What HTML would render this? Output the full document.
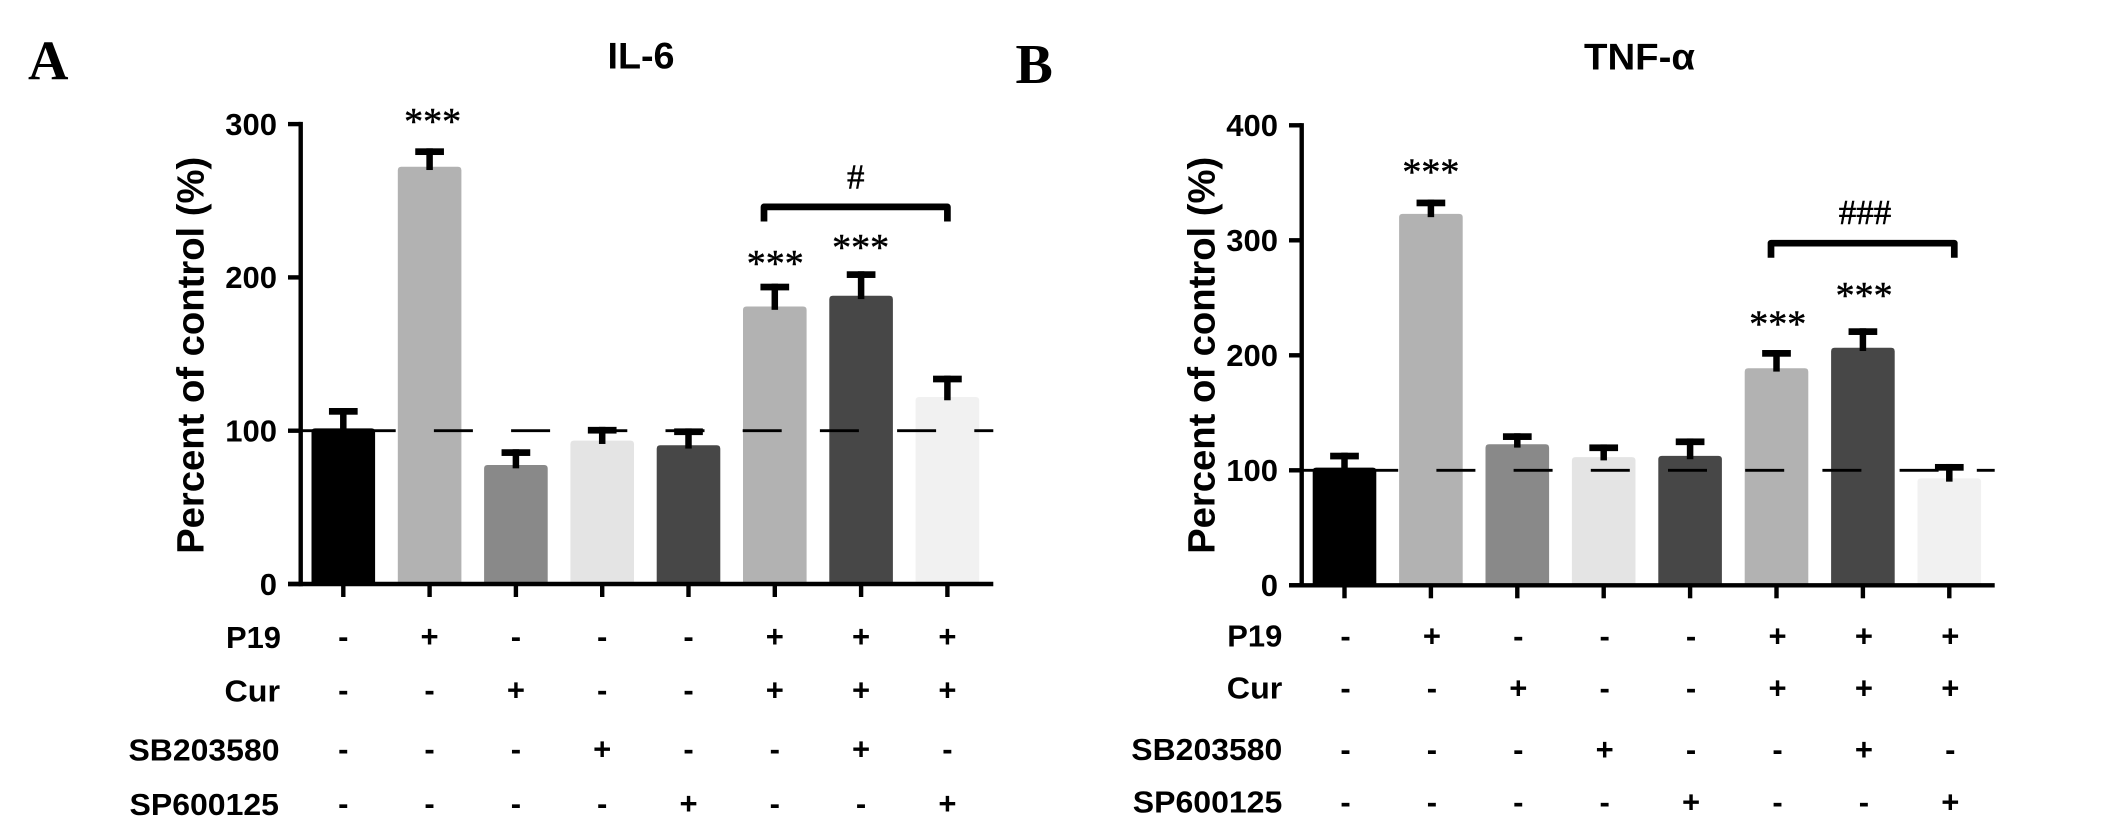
<!DOCTYPE html>
<html lang="en">
<head>
<meta charset="utf-8">
<title>IL-6 and TNF-α percent of control</title>
<style>
  html, body { margin: 0; padding: 0; background: #fff; }
  body { width: 2126px; height: 826px; overflow: hidden; }
  svg { display: block; }
  text { font-family: "Liberation Sans", sans-serif; fill: #000; }
  .bold { font-weight: 700; }
  .serif { font-family: "Liberation Serif", serif; }
  .thick { stroke: #000; stroke-width: 0.5; }
</style>
</head>
<body>
<svg id="figure" xmlns="http://www.w3.org/2000/svg" width="2126" height="826" viewBox="0 0 2126 826">
  <rect x="0" y="0" width="2126" height="826" fill="#fff"/>
  <text class="serif bold" x="28" y="79.5" font-size="56">A</text>
  <text class="serif bold" x="1015.5" y="83" font-size="56">B</text>
  <text class="bold" x="607.5" y="68.5" font-size="37" textLength="67" lengthAdjust="spacingAndGlyphs">IL-6</text>
  <text class="bold" x="1584" y="69.5" font-size="37" textLength="111" lengthAdjust="spacingAndGlyphs">TNF-α</text>
</svg>
<script>
// ---- shared categories ----
const treatmentNames = ["P19", "Cur", "SB203580", "SP600125"];
const p19Signs      = ["-", "+", "-", "-", "-", "+", "+", "+"];
const curSigns      = ["-", "-", "+", "-", "-", "+", "+", "+"];
const sb203580Signs = ["-", "-", "-", "+", "-", "-", "+", "-"];
const sp600125Signs = ["-", "-", "-", "-", "+", "-", "-", "+"];
const barColors = ["#000000", "#b2b2b2", "#898989", "#e4e4e4", "#474747", "#b2b2b2", "#474747", "#f1f1f1"];
const referenceValue = 100;

// ---- IL-6 data ----
const il6Ticks = [0, 100, 200, 300];
const il6Values = [101.5, 272.2, 77.6, 93.5, 90.5, 181, 188, 122];
const il6ErrorTops = [114.8, 284.2, 87.9, 102.5, 101.5, 195.9, 204, 135.9];
const il6StarBars = [1, 5, 6];
const il6StarLevels = [293.5, 201, 211.5];
const il6BracketLevel = 246;
const il6HashLevel = 258;
const il6HashText = "#";

// ---- TNF-alpha data ----
const tnfTicks = [0, 100, 200, 300, 400];
const tnfValues = [102.3, 323, 122.6, 111.5, 112.5, 188.7, 206.6, 93];
const tnfErrorTops = [115.3, 335.4, 132.2, 122.5, 127.7, 204.6, 223.5, 105.5];
const tnfStarBars = [1, 5, 6];
const tnfStarLevels = [348.6, 216.4, 241];
const tnfBracketLevel = 297.5;
const tnfHashLevel = 314;
const tnfHashText = "###";

const SVG_NS = "http://www.w3.org/2000/svg";
const figure = document.getElementById("figure");

function make(tag, attrs, parent) {
  const node = document.createElementNS(SVG_NS, tag);
  for (const key in attrs) node.setAttribute(key, attrs[key]);
  parent.appendChild(node);
  return node;
}

function drawPanel(cfg) {
  const xBand = i => cfg.firstX + i * cfg.step;
  const yScale = v => cfg.y0 - v * cfg.pxPerUnit;
  const barW = 63.6, capW = 28.7, capH = 6.7, stemW = 6.5, axisW = 4.4;

  const group = make("g", {}, figure);
  
  

  // bars
  cfg.values.forEach((v, i) => {
    const top = yScale(v), l = xBand(i) - barW / 2, r = xBand(i) + barW / 2, rad = 3.5;
    const bar = make("path", {
      d: `M${l},${cfg.y0} V${top + rad} Q${l},${top} ${l + rad},${top} H${r - rad} Q${r},${top} ${r},${top + rad} V${cfg.y0} Z`,
      fill: barColors[i]
    }, group);
    
    
  });

  // error bars
  cfg.errors.forEach((e, i) => {
    const top = yScale(e), bottom = yScale(cfg.values[i]) + 3.3;
    const stem = make("rect", { x: xBand(i) - stemW / 2, y: top, width: stemW, height: bottom - top, fill: "#000" }, group);
    
    
    const cap = make("rect", { x: xBand(i) - capW / 2, y: top, width: capW, height: capH, fill: "#000" }, group);
    
    
  });

  // dashed reference line
  const refLine = make("line", {
    x1: cfg.axisLeft, x2: cfg.axisRight, y1: yScale(referenceValue), y2: yScale(referenceValue),
    stroke: "#000", "stroke-width": 2.8, "stroke-dasharray": "39 38.2", "stroke-dashoffset": cfg.dashPhase
  }, group);
  
  

  // y axis
  const yAxis = make("line", {
    x1: cfg.axisX, x2: cfg.axisX, y1: yScale(cfg.ticks[cfg.ticks.length - 1]) - axisW / 2, y2: cfg.y0 + axisW / 2,
    stroke: "#000", "stroke-width": axisW
  }, group);
  
  

  cfg.ticks.forEach(t => {
    const tick = make("line", {
      x1: cfg.axisLeft, x2: cfg.axisX, y1: yScale(t), y2: yScale(t), stroke: "#000", "stroke-width": axisW
    }, group);
    
    
    const label = make("text", {
      x: cfg.tickLabelX, y: yScale(t) + 10.8, "font-size": 31, "text-anchor": "end", class: "bold"
    }, group);
    label.textContent = String(t);
    
    
  });

  // x axis
  const xAxis = make("line", {
    x1: cfg.axisLeft, x2: cfg.axisRight, y1: cfg.y0, y2: cfg.y0, stroke: "#000", "stroke-width": axisW
  }, group);
  
  

  cfg.values.forEach((v, i) => {
    const tick = make("line", {
      x1: xBand(i), x2: xBand(i), y1: cfg.y0, y2: cfg.y0 + 13, stroke: "#000", "stroke-width": axisW
    }, group);
    
    
  });

  // y axis title
  const yTitle = make("text", {
    transform: `translate(${cfg.yTitleX},355.3) rotate(-90)`, "font-size": 38, "text-anchor": "middle",
    class: "bold", textLength: 397, lengthAdjust: "spacingAndGlyphs"
  }, group);
  yTitle.textContent = "Percent of control (%)";
  
  

  // significance stars
  cfg.starBars.forEach((b, k) => {
    const star = make("text", {
      x: xBand(b) + cfg.starDx[k], y: yScale(cfg.starLevels[k]), "font-size": 38, "text-anchor": "middle", class: "serif thick"
    }, group);
    star.textContent = "***";
    
    
  });

  // bracket + hash label
  const bl = xBand(5) + cfg.bracketDx[0], br = xBand(7) + cfg.bracketDx[1];
  const by = yScale(cfg.bracketLevel);
  const bracket = make("path", {
    d: `M${bl},${by + 14.6} V${by} H${br} V${by + 14.6}`, fill: "none", stroke: "#000",
    "stroke-width": 6.7, "stroke-linejoin": "round"
  }, group);
  
  

  const hash = make("text", {
    x: (bl + br) / 2 + cfg.hashDx, y: yScale(cfg.hashLevel), "font-size": 35, "text-anchor": "middle", class: "serif thick"
  }, group);
  hash.textContent = cfg.hashText;
  
  

  // treatment table
  [p19Signs, curSigns, sb203580Signs, sp600125Signs].forEach((signs, r) => {
    const name = make("text", {
      x: cfg.rowLabelEnds[r], y: cfg.rowBaselines[r], "font-size": 31, "text-anchor": "end", class: "bold",
      textLength: cfg.rowLabelLengths[r], lengthAdjust: "spacingAndGlyphs"
    }, group);
    name.textContent = treatmentNames[r];
    
    
    signs.forEach((s, i) => {
      const sign = make("text", {
        x: xBand(i) + cfg.signDx, y: cfg.rowBaselines[r] + cfg.signDy, "font-size": 31, "text-anchor": "middle", class: "bold"
      }, group);
      sign.textContent = s;
      
      
    });
  });
}

drawPanel({
  prefix: "il6", values: il6Values, errors: il6ErrorTops, ticks: il6Ticks,
  starBars: il6StarBars, starLevels: il6StarLevels, starDx: [3, 0.5, -0.5],
  bracketLevel: il6BracketLevel, hashLevel: il6HashLevel, hashText: il6HashText,
  firstX: 343.3, step: 86.3, y0: 584, pxPerUnit: 1.533,
  axisX: 300.7, axisLeft: 288, axisRight: 993.3, dashPhase: 8.5,
  tickLabelX: 277, yTitleX: 203.3,
  rowLabelEnds: [281, 280, 279.5, 279],
  rowLabelLengths: [55, 55.5, 151, 149.5],
  rowBaselines: [648, 701.5, 760.5, 815],
  signDx: 0, signDy: -1,
  bracketDx: [-10.8, 0], hashDx: 0
});

drawPanel({
  prefix: "tnf", values: tnfValues, errors: tnfErrorTops, ticks: tnfTicks,
  starBars: tnfStarBars, starLevels: tnfStarLevels, starDx: [0, 1.2, 1.2],
  bracketLevel: tnfBracketLevel, hashLevel: tnfHashLevel, hashText: tnfHashText,
  firstX: 1344.5, step: 86.4, y0: 585.3, pxPerUnit: 1.15,
  axisX: 1301.7, axisLeft: 1289, axisRight: 1994.7, dashPhase: 7,
  tickLabelX: 1278, yTitleX: 1214.3,
  rowLabelEnds: [1282.3, 1282.3, 1282.3, 1282.3],
  rowLabelLengths: [55, 55.5, 151, 149.5],
  rowBaselines: [646.4, 698.5, 760, 812.5],
  signDx: 1, signDy: 0,
  bracketDx: [-5.5, 5], hashDx: 2.3
});
</script>
</body>
</html>
